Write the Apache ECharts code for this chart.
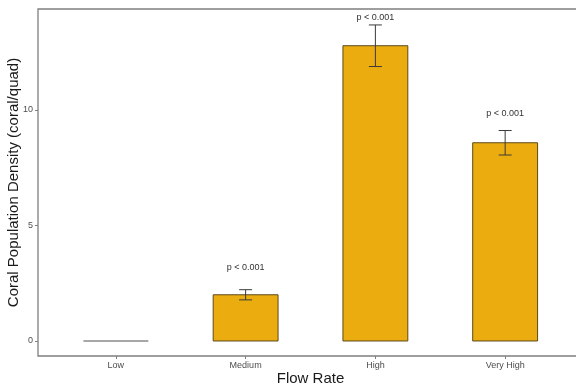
<!DOCTYPE html>
<html>
<head>
<meta charset="utf-8">
<script src="https://cdn.jsdelivr.net/npm/echarts@6/dist/echarts.min.js"></script>
<style>
  html, body { margin: 0; padding: 0; background: #fff; overflow: hidden; }
  #chart { width: 576px; height: 386px; }
</style>
</head>
<body>
<div id="chart"></div>
<script>
// Mean coral density per flow-rate treatment, with standard error
const categories = ['Low', 'Medium', 'High', 'Very High'];
const means = [0, 2.0, 12.78, 8.58];
const errors = [0, 0.22, 0.9, 0.53];
// Significance annotations and the heights where they sit
const sigLabels = ['', 'p < 0.001', 'p < 0.001', 'p < 0.001'];
const sigHeights = [0, 3.2, 14.0, 9.85];
const yTicks = [0, 5, 10];

const FONT = 'Liberation Sans, Arial, sans-serif';
const positions = categories.map((_, i) => i + 1);

const barData = positions.map((x, i) => [x, means[i]]);
const errData = positions.map((x, i) => [x, means[i] - errors[i], means[i] + errors[i]]).filter((d, i) => errors[i] > 0);
const sigData = positions.map((x, i) => [x, sigHeights[i], sigLabels[i]]).filter(d => d[2] !== '');

const chart = echarts.init(document.getElementById('chart'), null, { renderer: 'canvas' });

chart.setOption({
  animation: false,
  backgroundColor: '#ffffff',
  grid: {
    left: 38, top: 9, bottom: 30, right: -7,
    outerBoundsMode: 'none', containLabel: false,
    show: true, borderColor: '#7f7f7f', borderWidth: 1.3, backgroundColor: 'transparent'
  },
  xAxis: {
    type: 'value', min: 0.4, max: 4.6,
    name: 'Flow Rate', nameLocation: 'middle', nameGap: 15, nameMoveOverlap: false,
    nameTextStyle: { fontFamily: FONT, fontSize: 15, color: '#1a1a1a' },
    splitLine: { show: false },
    axisLine: { show: false, onZero: false },
    axisTick: { show: true, customValues: positions, length: 3, lineStyle: { color: '#7f7f7f' } },
    axisLabel: {
      customValues: positions, margin: 5,
      formatter: v => categories[Math.round(v) - 1] || '',
      fontFamily: FONT, fontSize: 9, color: '#4d4d4d'
    }
  },
  yAxis: {
    type: 'value', min: -0.65, max: 14.37,
    name: 'Coral Population Density (coral/quad)', nameLocation: 'middle', nameGap: 17, nameMoveOverlap: false,
    nameTextStyle: { fontFamily: FONT, fontSize: 15, color: '#1a1a1a' },
    splitLine: { show: false },
    axisLine: { show: false, onZero: false },
    axisTick: { show: true, customValues: yTicks, length: 3, lineStyle: { color: '#7f7f7f' } },
    axisLabel: {
      customValues: yTicks, margin: 5,
      fontFamily: FONT, fontSize: 9, color: '#4d4d4d'
    }
  },
  series: [
    {
      type: 'custom',
      name: 'bars',
      data: barData,
      encode: { x: 0, y: 1 },
      renderItem: (params, api) => {
        const x = api.value(0), y = api.value(1);
        const left = api.coord([x - 0.25, y]);
        const right = api.coord([x + 0.25, 0]);
        if (y === 0) {
          return {
            type: 'line',
            shape: { x1: left[0], y1: right[1], x2: right[0], y2: right[1] },
            style: { stroke: '#8a8a8a', lineWidth: 1.5 }
          };
        }
        return {
          type: 'rect',
          shape: { x: left[0], y: left[1], width: right[0] - left[0], height: right[1] - left[1] },
          style: { fill: '#EBAC0F', stroke: '#5c4a1c', lineWidth: 1 }
        };
      }
    },
    {
      type: 'custom',
      name: 'error',
      data: errData,
      encode: { x: 0, y: [1, 2] },
      z: 3,
      renderItem: (params, api) => {
        const x = api.value(0);
        const lo = api.coord([x, api.value(1)]);
        const hi = api.coord([x, api.value(2)]);
        const half = api.size([0.05, 0])[0];
        const st = { stroke: '#3a3a3a', lineWidth: 1 };
        return {
          type: 'group',
          children: [
            { type: 'line', shape: { x1: lo[0], y1: lo[1], x2: hi[0], y2: hi[1] }, style: st },
            { type: 'line', shape: { x1: lo[0] - half, y1: lo[1], x2: lo[0] + half, y2: lo[1] }, style: st },
            { type: 'line', shape: { x1: hi[0] - half, y1: hi[1], x2: hi[0] + half, y2: hi[1] }, style: st }
          ]
        };
      }
    },
    {
      type: 'custom',
      name: 'significance',
      data: sigData,
      encode: { x: 0, y: 1 },
      z: 4,
      renderItem: (params, api) => {
        const p = api.coord([api.value(0), api.value(1)]);
        return {
          type: 'text',
          x: p[0], y: p[1],
          style: {
            text: sigData[params.dataIndex][2],
            fontFamily: FONT, fontSize: 9, fill: '#333333',
            align: 'center', verticalAlign: 'middle'
          }
        };
      }
    }
  ]
});
</script>
</body>
</html>
